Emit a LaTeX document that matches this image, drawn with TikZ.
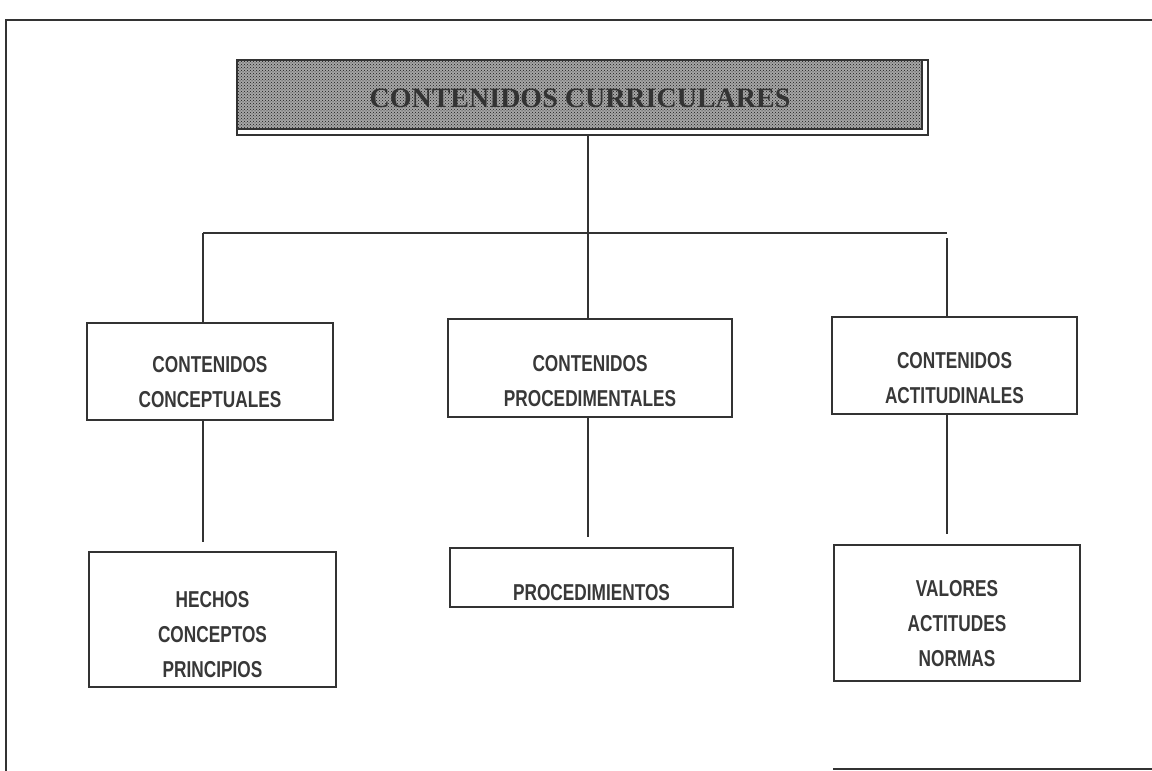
\documentclass[tikz,border=0pt]{standalone}
\usepackage{fontspec}
\usepackage{tikz}
\usetikzlibrary{calc,patterns}
\newfontfamily\boxfont[FakeStretch=0.75]{Liberation Sans}
\newfontfamily\headfont{Liberation Serif}

\begin{document}
\begin{tikzpicture}[x=1pt, y=-1pt,
	cbox/.style={draw=black!80, line width=1.3pt, inner sep=0pt},
	ctext/.style={align=center, text=black!78, font=\boxfont\bfseries\fontsize{23}{35}\selectfont, inner sep=0pt},
	link/.style={line width=1.3pt, draw=black!80}]
			%%%%% START %%%%%
			\useasboundingbox (0, 0) rectangle (1152, 771);
			
			% frame
			\draw[link] (6, 771) -- (6, 20) -- (1152, 20);
			\draw[link] (833, 769) -- (1152, 769);
			
			% title
			\node[cbox, fill=white, minimum width=691, minimum height=75] (titleout) at (582.5, 97.5) {};
			\node[cbox, preaction={fill=black!35}, pattern=crosshatch dots, pattern color=black!90, minimum width=685, minimum height=69] (title) at (579.5, 94.5) {};
			\node[text=black!80, font=\headfont\bfseries\fontsize{28}{30}\selectfont, inner sep=0pt] (title-t) at (580, 98) {CONTENIDOS CURRICULARES};
			
			% second row
			\node[cbox, minimum width=246, minimum height=97] (concept) at (210, 371.5) {};
			\node[ctext] (concept-t) at ([yshift=-11pt]concept) {CONTENIDOS\\CONCEPTUALES};
			\node[cbox, minimum width=284, minimum height=98] (proced) at (590, 368) {};
			\node[ctext] (proced-t) at ([yshift=-13pt]proced) {CONTENIDOS\\PROCEDIMENTALES};
			\node[cbox, minimum width=245, minimum height=97] (actitud) at (954.5, 365.5) {};
			\node[ctext] (actitud-t) at ([yshift=-13pt]actitud) {CONTENIDOS\\ACTITUDINALES};
			
			% third row
			\node[cbox, minimum width=247, minimum height=135] (hechos) at (212.5, 619.5) {};
			\node[ctext] (hechos-t) at ([yshift=-15pt]hechos) {HECHOS\\CONCEPTOS\\PRINCIPIOS};
			\node[cbox, minimum width=283, minimum height=59] (procs) at (591.5, 577.5) {};
			\node[ctext] (procs-t) at ([yshift=-15pt]procs) {PROCEDIMIENTOS};
			\node[cbox, minimum width=246, minimum height=136] (valores) at (957, 613) {};
			\node[ctext] (valores-t) at ([yshift=-11pt]valores) {VALORES\\ACTITUDES\\NORMAS};
			
			% connectors
			\coordinate (barL) at (203, 233);
			\coordinate (barR) at (947, 233);
			\coordinate (stem) at (588, 233);
			\draw[link] (barL) -- (barR);
			\draw[link] (stem |- titleout.south) -- (stem |- proced.north);
			\draw[link] (barL) -- (barL |- concept.north);
			\draw[link] ([yshift=-5pt]barR) -- (barR |- actitud.north);
			
			\draw[link, shorten >=9pt] (barL |- concept.south) -- (barL |- hechos.north);
			\draw[link, shorten >=10pt] (stem |- proced.south) -- (stem |- procs.north);
			\draw[link, shorten >=10pt] (barR |- actitud.south) -- (barR |- valores.north);
			%%%%% END %%%%%
		\end{tikzpicture}
\end{document}
